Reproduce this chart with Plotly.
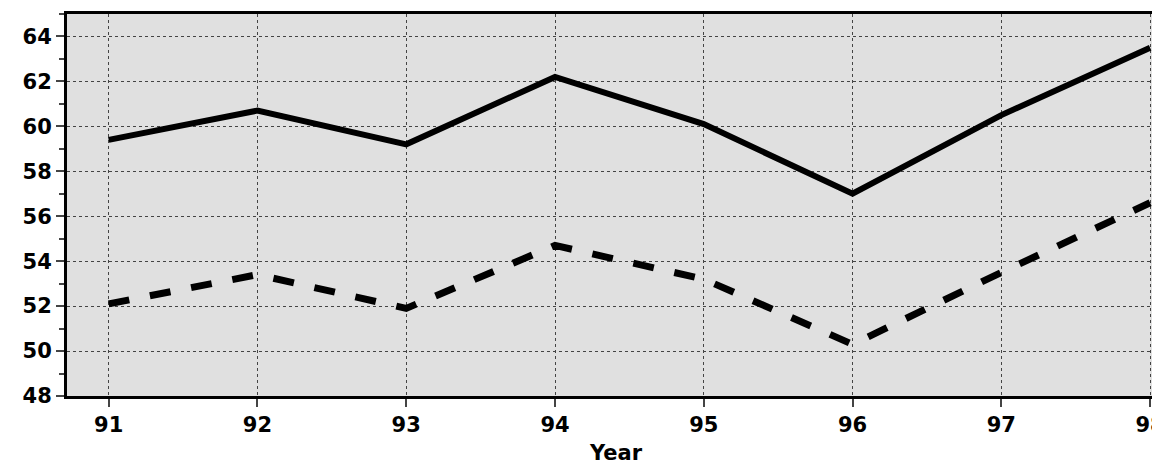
import plotly.graph_objects as go

years = [91, 92, 93, 94, 95, 96, 97, 98]
solid_vals = [59.4, 60.7, 59.2, 62.2, 60.1, 57.0, 60.5, 63.5]
dashed_vals = [52.1, 53.4, 51.9, 54.7, 53.2, 50.3, 53.5, 56.6]
y_ticks = [48, 50, 52, 54, 56, 58, 60, 62, 64]

fig = go.Figure()
fig.add_trace(go.Scatter(x=years, y=solid_vals, mode='lines',
                         line=dict(color='black', width=6)))
fig.add_trace(go.Scatter(x=years, y=dashed_vals, mode='lines',
                         line=dict(color='black', width=7, dash='dash')))

font = dict(family='DejaVu Sans', size=21, color='black', weight='bold')
fig.update_layout(
    width=1160, height=470, showlegend=False,
    margin=dict(l=59, r=0, t=6, b=82),
    plot_bgcolor='#e0e0e0', paper_bgcolor='white',
    font=font,
    xaxis=dict(range=[90.72, 98.1], tickvals=years, ticktext=[str(y) for y in years],
               showgrid=True, gridcolor='#444', griddash='dot', gridwidth=1,
               showline=True, linecolor='black', linewidth=3, mirror=True,
               ticks='outside', ticklen=8, tickwidth=2, zeroline=False,
               title=dict(text='Year', font=font, standoff=10)),
    yaxis=dict(range=[48, 65], tickvals=y_ticks,
               showgrid=True, gridcolor='#444', griddash='dot', gridwidth=1,
               showline=True, linecolor='black', linewidth=3, mirror=True,
               ticks='outside', ticklen=8, tickwidth=2, zeroline=False,
               minor=dict(dtick=1, ticks='outside', ticklen=5, tickwidth=2, showgrid=False)),
)

fig.write_html("out.html")
